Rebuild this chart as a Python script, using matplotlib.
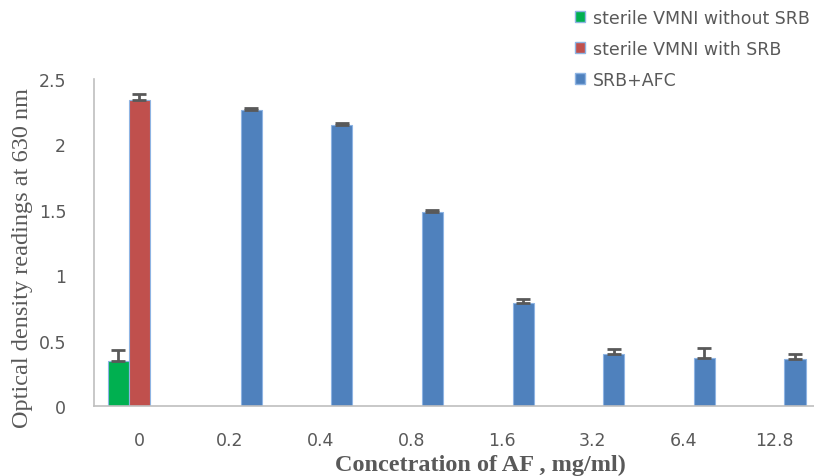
import numpy as np
import matplotlib.pyplot as plt
from matplotlib.patches import Patch

# data
categories = ['0', '0.2', '0.4', '0.8', '1.6', '3.2', '6.4', '12.8']
no_srb = [0.346, np.nan, np.nan, np.nan, np.nan, np.nan, np.nan, np.nan]
no_srb_err = [0.08, 0, 0, 0, 0, 0, 0, 0]
with_srb = [2.34, np.nan, np.nan, np.nan, np.nan, np.nan, np.nan, np.nan]
with_srb_err = [0.045, 0, 0, 0, 0, 0, 0, 0]
srb_afc = [np.nan, 2.26, 2.15, 1.48, 0.79, 0.40, 0.367, 0.356]
srb_afc_err = [0, 0.015, 0.015, 0.02, 0.03, 0.035, 0.08, 0.045]
series_names = ['sterile VMNI without SRB', 'sterile VMNI with SRB', 'SRB+AFC']

colors = ['#00B050', '#C0504D', '#4F81BD']
sans = ['DejaVu Sans']

fig = plt.figure(figsize=(8.14, 4.77), dpi=100)
ax = fig.add_axes([0.1155, 0.1468, 0.891, 0.6855])

x = np.arange(len(categories))
w = 0.232
all_vals = [no_srb, with_srb, srb_afc]
all_errs = [no_srb_err, with_srb_err, srb_afc_err]
for i in range(3):
    err = [np.zeros(len(categories)), all_errs[i]]
    ax.bar(x + (i - 1) * w, all_vals[i], w, color=colors[i],
           edgecolor='#8EB4E3', linewidth=0.8,
           yerr=err, error_kw=dict(ecolor='#595959', elinewidth=2,
                                   capsize=5, capthick=2))

ax.set_xlim(-0.5, len(categories) - 0.5)
ax.set_ylim(0, 2.5)
ax.set_yticks([0, 0.5, 1, 1.5, 2, 2.5])
ax.set_yticklabels(['0', '0.5', '1', '1.5', '2', '2.5'])
ax.set_xticks(x)
ax.set_xticklabels(categories)
ax.tick_params(length=0, labelsize=12.5, labelcolor='#595959')
ax.tick_params(axis='x', pad=18)
ax.tick_params(axis='y', pad=20)
for lab in ax.get_xticklabels() + ax.get_yticklabels():
    lab.set_family(sans)

for s in ['top', 'right']:
    ax.spines[s].set_visible(False)
ax.spines['left'].set_color('#BFBFBF')
ax.spines['bottom'].set_color('#BFBFBF')
ax.spines['left'].set_linewidth(1.2)
ax.spines['bottom'].set_linewidth(1.2)

# axis titles placed like the original
fig.text(23 / 814, 1 - 258 / 477, 'Optical density readings at 630 nm',
         family='Liberation Serif', fontsize=17.5, color='#595959',
         rotation=90, ha='center', va='center')
fig.text(480 / 814, 1 - 465 / 477, 'Concetration of AF , mg/ml)',
         family='Liberation Serif', fontsize=17.5, fontweight='bold',
         color='#595959', ha='center', va='center')

handles = [Patch(facecolor=colors[i], edgecolor='#8EB4E3') for i in range(3)]
leg = fig.legend(handles, series_names, loc='upper left',
                 bbox_to_anchor=(0.687, 1.012), frameon=False,
                 prop={'family': sans, 'size': 12.5}, labelcolor='#595959',
                 handlelength=0.6, handleheight=0.6, handletextpad=0.45,
                 labelspacing=0.75)

fig.savefig('out.png', dpi=100)
